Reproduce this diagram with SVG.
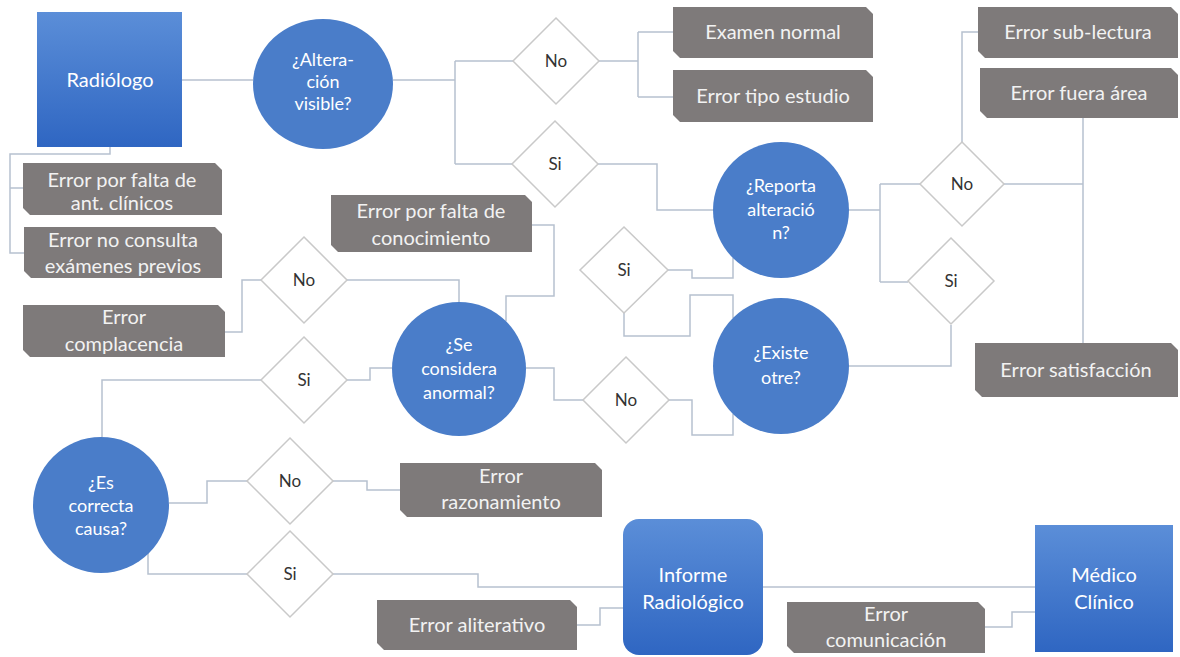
<svg xmlns="http://www.w3.org/2000/svg" width="1180" height="657" viewBox="0 0 1180 657">
<style>
.bg{fill:#ffffff}
.con{fill:none;stroke:#b7c1cf;stroke-width:1.5}
.tag{fill:#7e7a7a}
.tt{font-family:Lato,"Liberation Sans",sans-serif;font-size:20px;fill:#f2f2f2;text-anchor:middle}
.dia{fill:#ffffff;stroke:#c9c9c9;stroke-width:1.5}
.dt{font-family:Lato,"Liberation Sans",sans-serif;font-size:17px;fill:#333333;text-anchor:middle}
.circ{fill:#4a7dc9}
.bt{font-family:Lato,"Liberation Sans",sans-serif;font-size:18px;fill:#ffffff;text-anchor:middle}
.bt2{font-family:Lato,"Liberation Sans",sans-serif;font-size:20px;fill:#ffffff;text-anchor:middle}
</style>
<defs>
<linearGradient id="g1" x1="0" y1="0" x2="0" y2="1">
<stop offset="0" stop-color="#5b8ed8"/>
<stop offset="1" stop-color="#2f66c2"/>
</linearGradient>
</defs>
<rect class="bg" x="0" y="0" width="1180" height="657"/>
<g id="connectors">
<path class="con" d="M182,80 H253"/>
<path class="con" d="M110,147 V154 H10 V253 H24 M10,188 H23"/>
<path class="con" d="M393,80 H455 M455,61 V164 M455,61 H513 M455,164 H512"/>
<path class="con" d="M599,61 H638 M638,32 V97 M638,32 H673 M638,97 H673"/>
<path class="con" d="M598,164 H657 V210 H713"/>
<path class="con" d="M849,210 H880 M880,184 V282 M880,184 H920 M880,282 H908"/>
<path class="con" d="M962,142 V32 H978 M1004,184 H1083 M1083,118 V343"/>
<path class="con" d="M951,325 V366 H849"/>
<path class="con" d="M668,270 H692 V278 H733 V258"/>
<path class="con" d="M624,313 V336 H690 V295 H733 V318"/>
<path class="con" d="M526,368 H554 V400 H583 M669,400 H692 V435 H733 V414"/>
<path class="con" d="M532,225 H554 V296 H506 V321"/>
<path class="con" d="M347,280 H459 V302 M262,280 H242 V332 H225"/>
<path class="con" d="M347,380 H370 V368 H392 M261,380 H102 V437"/>
<path class="con" d="M169,503 H207 V481 H247 M333,481 H367 V490 H400"/>
<path class="con" d="M148,553 V574 H247 M333,574 H478 V587 H623"/>
<path class="con" d="M577,625 H600 V608 H623"/>
<path class="con" d="M763,587 H1035"/>
<path class="con" d="M985,627 H1012 V612 H1035"/>
</g>
<g id="radiologo"><rect x="37" y="12" width="145" height="135" fill="url(#g1)"/><text class="bt2" x="110" y="87">Radiólogo</text></g>
<g id="q-alteracion"><ellipse class="circ" cx="323" cy="84" rx="70" ry="65"/><text class="bt" x="323" y="66">¿Altera-</text><text class="bt" x="323" y="88">ción</text><text class="bt" x="323" y="110">visible?</text></g>
<g id="q-reporta"><circle class="circ" cx="781" cy="210" r="68"/><text class="bt" x="781" y="192">¿Reporta</text><text class="bt" x="781" y="216">alteració</text><text class="bt" x="781" y="239">n?</text></g>
<g id="q-existe"><circle class="circ" cx="781" cy="366" r="68"/><text class="bt" x="781" y="359">¿Existe</text><text class="bt" x="781" y="384">otre?</text></g>
<g id="q-considera"><circle class="circ" cx="459" cy="369" r="67"/><text class="bt" x="459" y="351">¿Se</text><text class="bt" x="459" y="375">considera</text><text class="bt" x="459" y="399">anormal?</text></g>
<g id="q-causa"><circle class="circ" cx="101" cy="505" r="68"/><text class="bt" x="101" y="489">¿Es</text><text class="bt" x="101" y="512">correcta</text><text class="bt" x="101" y="535">causa?</text></g>
<g id="informe"><rect x="623" y="519" width="140" height="136" rx="16" fill="url(#g1)"/><text class="bt2" x="693" y="582">Informe</text><text class="bt2" x="693" y="609">Radiológico</text></g>
<g id="medico"><rect x="1035" y="525" width="138" height="127" fill="url(#g1)"/><text class="bt2" x="1104" y="582">Médico</text><text class="bt2" x="1104" y="609">Clínico</text></g>
<g id="d-no-1"><path class="dia" d="M556,18 L599,61 L556,104 L513,61 Z"/><text class="dt" x="556" y="67">No</text></g>
<g id="d-si-1"><path class="dia" d="M555,121 L598,164 L555,207 L512,164 Z"/><text class="dt" x="555" y="170">Si</text></g>
<g id="d-no-2"><path class="dia" d="M962,142 L1004,184 L962,226 L920,184 Z"/><text class="dt" x="962" y="190">No</text></g>
<g id="d-si-2"><path class="dia" d="M951,238 L994,281 L951,324 L908,281 Z"/><text class="dt" x="951" y="287">Si</text></g>
<g id="d-si-3"><path class="dia" d="M624,227 L668,270 L624,313 L580,270 Z"/><text class="dt" x="624" y="276">Si</text></g>
<g id="d-no-3"><path class="dia" d="M626,357 L669,400 L626,443 L583,400 Z"/><text class="dt" x="626" y="406">No</text></g>
<g id="d-no-4"><path class="dia" d="M304,237 L347,280 L304,323 L261,280 Z"/><text class="dt" x="304" y="286">No</text></g>
<g id="d-si-4"><path class="dia" d="M304,337 L347,380 L304,423 L261,380 Z"/><text class="dt" x="304" y="386">Si</text></g>
<g id="d-no-5"><path class="dia" d="M290,438 L333,481 L290,524 L247,481 Z"/><text class="dt" x="290" y="487">No</text></g>
<g id="d-si-5"><path class="dia" d="M290,531 L333,574 L290,617 L247,574 Z"/><text class="dt" x="290" y="580">Si</text></g>
<g id="e-antecedentes"><path class="tag" d="M23,163 H215 L222,170 V215 H30 L23,208 Z"/><text class="tt" x="122" y="187">Error por falta de</text><text class="tt" x="122" y="210">ant. clínicos</text></g>
<g id="e-previos"><path class="tag" d="M24,227 H215 L222,234 V278 H31 L24,271 Z"/><text class="tt" x="123" y="247">Error no consulta</text><text class="tt" x="123" y="273">exámenes previos</text></g>
<g id="e-normal"><path class="tag" d="M673,7 H866 L873,14 V58 H680 L673,51 Z"/><text class="tt" x="773" y="39">Examen normal</text></g>
<g id="e-tipo"><path class="tag" d="M673,70 H866 L873,77 V122 H680 L673,115 Z"/><text class="tt" x="773" y="103">Error tipo estudio</text></g>
<g id="e-sublectura"><path class="tag" d="M978,7 H1171 L1178,14 V58 H985 L978,51 Z"/><text class="tt" x="1078" y="39">Error sub-lectura</text></g>
<g id="e-fuera"><path class="tag" d="M980,68 H1171 L1178,75 V118 H987 L980,111 Z"/><text class="tt" x="1079" y="100">Error fuera área</text></g>
<g id="e-conocimiento"><path class="tag" d="M331,195 H525 L532,202 V252 H338 L331,245 Z"/><text class="tt" x="431" y="218">Error por falta de</text><text class="tt" x="431" y="245">conocimiento</text></g>
<g id="e-complacencia"><path class="tag" d="M23,305 H218 L225,312 V357 H30 L23,350 Z"/><text class="tt" x="124" y="324">Error</text><text class="tt" x="124" y="351">complacencia</text></g>
<g id="e-satisfaccion"><path class="tag" d="M975,343 H1171 L1178,350 V397 H982 L975,390 Z"/><text class="tt" x="1076" y="377">Error satisfacción</text></g>
<g id="e-razonamiento"><path class="tag" d="M400,463 H595 L602,470 V517 H407 L400,510 Z"/><text class="tt" x="501" y="483">Error</text><text class="tt" x="501" y="509">razonamiento</text></g>
<g id="e-aliterativo"><path class="tag" d="M377,600 H570 L577,607 V650 H384 L377,643 Z"/><text class="tt" x="477" y="632">Error aliterativo</text></g>
<g id="e-comunicacion"><path class="tag" d="M787,602 H978 L985,609 V653 H794 L787,646 Z"/><text class="tt" x="886" y="621">Error</text><text class="tt" x="886" y="647">comunicación</text></g>
</svg>
